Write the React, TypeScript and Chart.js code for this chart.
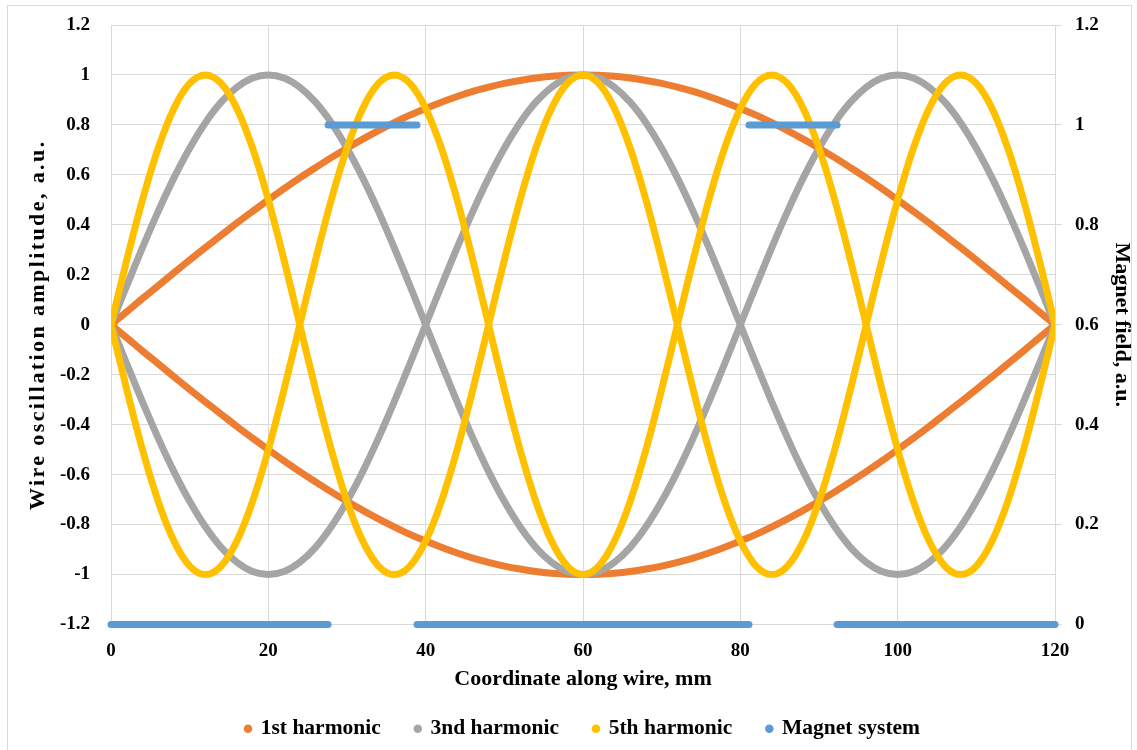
import React, { useEffect, useRef } from "react";
import { Chart, registerables } from "chart.js";

Chart.register(...registerables);

// Coordinate along wire, mm
const X = [
  0, 2, 4, 6, 8, 10, 12, 14, 16, 18, 20, 22, 24, 26, 28, 30, 32, 34, 36, 38, 40,
  42, 44, 46, 48, 50, 52, 54, 56, 58, 60, 62, 64, 66, 68, 70, 72, 74, 76, 78, 80,
  82, 84, 86, 88, 90, 92, 94, 96, 98, 100, 102, 104, 106, 108, 110, 112, 114, 116, 118, 120,
];

const FIRST_UP = [
  0, 0.052, 0.105, 0.156, 0.208, 0.259, 0.309, 0.358, 0.407, 0.454, 0.5, 0.545, 0.588, 0.629, 0.669, 0.707,
  0.743, 0.777, 0.809, 0.839, 0.866, 0.891, 0.914, 0.934, 0.951, 0.966, 0.978, 0.988, 0.995, 0.999, 1,
  0.999, 0.995, 0.988, 0.978, 0.966, 0.951, 0.934, 0.914, 0.891, 0.866, 0.839, 0.809, 0.777, 0.743, 0.707,
  0.669, 0.629, 0.588, 0.545, 0.5, 0.454, 0.407, 0.358, 0.309, 0.259, 0.208, 0.156, 0.105, 0.052, 0,
];
const FIRST_DOWN = [
  0, -0.052, -0.105, -0.156, -0.208, -0.259, -0.309, -0.358, -0.407, -0.454, -0.5, -0.545, -0.588, -0.629, -0.669, -0.707,
  -0.743, -0.777, -0.809, -0.839, -0.866, -0.891, -0.914, -0.934, -0.951, -0.966, -0.978, -0.988, -0.995, -0.999, -1,
  -0.999, -0.995, -0.988, -0.978, -0.966, -0.951, -0.934, -0.914, -0.891, -0.866, -0.839, -0.809, -0.777, -0.743, -0.707,
  -0.669, -0.629, -0.588, -0.545, -0.5, -0.454, -0.407, -0.358, -0.309, -0.259, -0.208, -0.156, -0.105, -0.052, 0,
];

const THIRD_UP = [
  0, 0.156, 0.309, 0.454, 0.588, 0.707, 0.809, 0.891, 0.951, 0.988, 1,
  0.988, 0.951, 0.891, 0.809, 0.707, 0.588, 0.454, 0.309, 0.156, 0,
  -0.156, -0.309, -0.454, -0.588, -0.707, -0.809, -0.891, -0.951, -0.988, -1,
  -0.988, -0.951, -0.891, -0.809, -0.707, -0.588, -0.454, -0.309, -0.156, 0,
  0.156, 0.309, 0.454, 0.588, 0.707, 0.809, 0.891, 0.951, 0.988, 1,
  0.988, 0.951, 0.891, 0.809, 0.707, 0.588, 0.454, 0.309, 0.156, 0,
];
const THIRD_DOWN = [
  0, -0.156, -0.309, -0.454, -0.588, -0.707, -0.809, -0.891, -0.951, -0.988, -1,
  -0.988, -0.951, -0.891, -0.809, -0.707, -0.588, -0.454, -0.309, -0.156, 0,
  0.156, 0.309, 0.454, 0.588, 0.707, 0.809, 0.891, 0.951, 0.988, 1,
  0.988, 0.951, 0.891, 0.809, 0.707, 0.588, 0.454, 0.309, 0.156, 0,
  -0.156, -0.309, -0.454, -0.588, -0.707, -0.809, -0.891, -0.951, -0.988, -1,
  -0.988, -0.951, -0.891, -0.809, -0.707, -0.588, -0.454, -0.309, -0.156, 0,
];

const FIFTH_UP = [
  0, 0.259, 0.5, 0.707, 0.866, 0.966, 1,
  0.966, 0.866, 0.707, 0.5, 0.259, 0,
  -0.259, -0.5, -0.707, -0.866, -0.966, -1,
  -0.966, -0.866, -0.707, -0.5, -0.259, 0,
  0.259, 0.5, 0.707, 0.866, 0.966, 1,
  0.966, 0.866, 0.707, 0.5, 0.259, 0,
  -0.259, -0.5, -0.707, -0.866, -0.966, -1,
  -0.966, -0.866, -0.707, -0.5, -0.259, 0,
  0.259, 0.5, 0.707, 0.866, 0.966, 1,
  0.966, 0.866, 0.707, 0.5, 0.259, 0,
];
const FIFTH_DOWN = [
  0, -0.259, -0.5, -0.707, -0.866, -0.966, -1,
  -0.966, -0.866, -0.707, -0.5, -0.259, 0,
  0.259, 0.5, 0.707, 0.866, 0.966, 1,
  0.966, 0.866, 0.707, 0.5, 0.259, 0,
  -0.259, -0.5, -0.707, -0.866, -0.966, -1,
  -0.966, -0.866, -0.707, -0.5, -0.259, 0,
  0.259, 0.5, 0.707, 0.866, 0.966, 1,
  0.966, 0.866, 0.707, 0.5, 0.259, 0,
  -0.259, -0.5, -0.707, -0.866, -0.966, -1,
  -0.966, -0.866, -0.707, -0.5, -0.259, 0,
];

// Magnet system (right axis), null breaks the line
const MAGNET_X = [0, 27.6, 27.6, 27.6, 38.9, 38.9, 38.9, 81.1, 81.1, 81.1, 92.3, 92.3, 92.3, 120];
const MAGNET_Y = [0, 0, null, 1, 1, null, 0, 0, null, 1, 1, null, 0, 0];

const SERIES_NAMES = ["1st harmonic", "3nd harmonic", "5th harmonic", "Magnet system"];
const COLORS = ["#ED7D31", "#A5A5A5", "#FFC000", "#5B9BD5"];

const X_TITLE = "Coordinate along wire, mm";
const Y_TITLE = "Wire oscillation amplitude, a.u.";
const Y2_TITLE = "Magnet field, a.u.";

const FONT_FAMILY = '"Liberation Serif", "Times New Roman", serif';
const TICK_FONT = { family: FONT_FAMILY, weight: "bold", size: 19 };
const TITLE_FONT = { family: FONT_FAMILY, weight: "bold", size: 22, lineHeight: 1 };
const LEGEND_FONT = { family: FONT_FAMILY, weight: "bold", size: 21.5 };

const pts = (xs: number[], ys: (number | null)[]) => xs.map((x, i) => ({ x, y: ys[i] }));

const fmt = (v: number | string) => String(Math.round(Number(v) * 10) / 10);

const borderPlugin = {
  id: "outerBorder",
  beforeDraw(chart: any) {
    const ctx = chart.ctx;
    ctx.save();
    ctx.fillStyle = "#ffffff";
    ctx.fillRect(0, 0, chart.width, chart.height);
    ctx.strokeStyle = "#D9D9D9";
    ctx.lineWidth = 1;
    ctx.strokeRect(7.5, 5.5, 1124, 760);
    ctx.restore();
    // widen the letter spacing of the left axis title
    const s = chart.scales.y;
    if (s && !s.__spaced) {
      const orig = s.drawTitle.bind(s);
      s.drawTitle = function () {
        const c = this.ctx;
        c.save();
        c.letterSpacing = "2.4px";
        orig();
        c.restore();
      };
      s.__spaced = true;
    }
  },
};

export default function App() {
  const ref = useRef<HTMLCanvasElement | null>(null);

  useEffect(() => {
    if (!ref.current) return;
    const lineDs = (label: string, data: any[], color: string, order: number) => ({
      label,
      data,
      borderColor: color,
      backgroundColor: color,
      borderWidth: 7,
      pointRadius: 0,
      pointHoverRadius: 0,
      borderCapStyle: "round" as const,
      borderJoinStyle: "round" as const,
      tension: 0.35,
      fill: false,
      order,
      yAxisID: "y",
    });

    const chart = new Chart(ref.current, {
      type: "line",
      data: {
        datasets: [
          lineDs(SERIES_NAMES[0], pts(X, FIRST_UP), COLORS[0], 3),
          lineDs(SERIES_NAMES[1], pts(X, THIRD_UP), COLORS[1], 2),
          lineDs(SERIES_NAMES[2], pts(X, FIFTH_UP), COLORS[2], 1),
          {
            label: SERIES_NAMES[3],
            data: pts(MAGNET_X, MAGNET_Y),
            borderColor: COLORS[3],
            backgroundColor: COLORS[3],
            borderWidth: 7,
            pointRadius: 0,
            pointHoverRadius: 0,
            borderCapStyle: "round",
            tension: 0,
            spanGaps: false,
            fill: false,
            clip: false,
            order: 0,
            yAxisID: "y2",
          },
          lineDs(SERIES_NAMES[0] + " ", pts(X, FIRST_DOWN), COLORS[0], 3),
          lineDs(SERIES_NAMES[1] + " ", pts(X, THIRD_DOWN), COLORS[1], 2),
          lineDs(SERIES_NAMES[2] + " ", pts(X, FIFTH_DOWN), COLORS[2], 1),
        ] as any,
      },
      options: {
        responsive: false,
        animation: false,
        events: [],
        layout: { padding: { left: 29, right: 0, top: 25, bottom: 0.5 } },
        scales: {
          x: {
            type: "linear",
            min: 0,
            max: 120,
            ticks: {
              stepSize: 20,
              color: "#000",
              padding: 15,
              font: TICK_FONT,
              callback: (v: any) => fmt(v),
            },
            grid: { color: "#D9D9D9", drawTicks: false, lineWidth: 1 },
            border: { display: true, color: "#D9D9D9" },
            title: {
              display: true,
              text: X_TITLE,
              color: "#000",
              font: TITLE_FONT,
              padding: { top: 0, bottom: -7.5 },
            },
            afterFit: (s: any) => {
              s.height = 58.5;
            },
          },
          y: {
            type: "linear",
            position: "left",
            min: -1.2,
            max: 1.2,
            ticks: {
              stepSize: 0.2,
              color: "#000",
              padding: 21,
              font: TICK_FONT,
              callback: (v: any) => fmt(v),
            },
            grid: { color: "#D9D9D9", drawTicks: false, lineWidth: 1 },
            border: { display: true, color: "#D9D9D9" },
            title: {
              display: true,
              text: Y_TITLE,
              color: "#000",
              font: TITLE_FONT,
              padding: { top: -2, bottom: 0 },
            },
            afterFit: (s: any) => {
              s.width = 82;
              s.paddingTop = 0;
              s.paddingBottom = 0;
            },
          },
          y2: {
            type: "linear",
            position: "right",
            min: 0,
            max: 1.2,
            ticks: {
              stepSize: 0.2,
              color: "#000",
              padding: 13,
              font: TICK_FONT,
              callback: (v: any) => fmt(v),
            },
            grid: {
              drawOnChartArea: false,
              drawTicks: true,
              tickLength: 7,
              color: "#D9D9D9",
            },
            border: { display: true, color: "#D9D9D9" },
            title: {
              display: true,
              text: Y2_TITLE,
              color: "#000",
              font: TITLE_FONT,
              padding: { top: 4, bottom: 0 },
            },
            afterFit: (s: any) => {
              s.width = 82;
              s.paddingTop = 0;
              s.paddingBottom = 0;
            },
          },
        },
        plugins: {
          legend: {
            display: true,
            position: "bottom",
            labels: {
              usePointStyle: true,
              pointStyle: "circle",
              boxWidth: 4,
              boxHeight: 6,
              padding: 35,
              color: "#000",
              font: LEGEND_FONT,
              filter: (item: any) => item.datasetIndex < 4,
              generateLabels: (chart: any) => {
                const base = Chart.defaults.plugins.legend.labels.generateLabels(chart);
                return base
                  .map((l: any) => ({ ...l, lineWidth: 0 }))
                  .sort((a: any, b: any) => a.datasetIndex - b.datasetIndex);
              },
            },
          },
          tooltip: { enabled: false },
        },
      } as any,
      plugins: [borderPlugin],
    });
    return () => chart.destroy();
  }, []);

  return (
    <div style={{ position: "fixed", left: 0, top: 0, width: 1137, height: 750, background: "#fff" }}>
      <canvas ref={ref} width={1137} height={750} style={{ display: "block" }} />
    </div>
  );
}
